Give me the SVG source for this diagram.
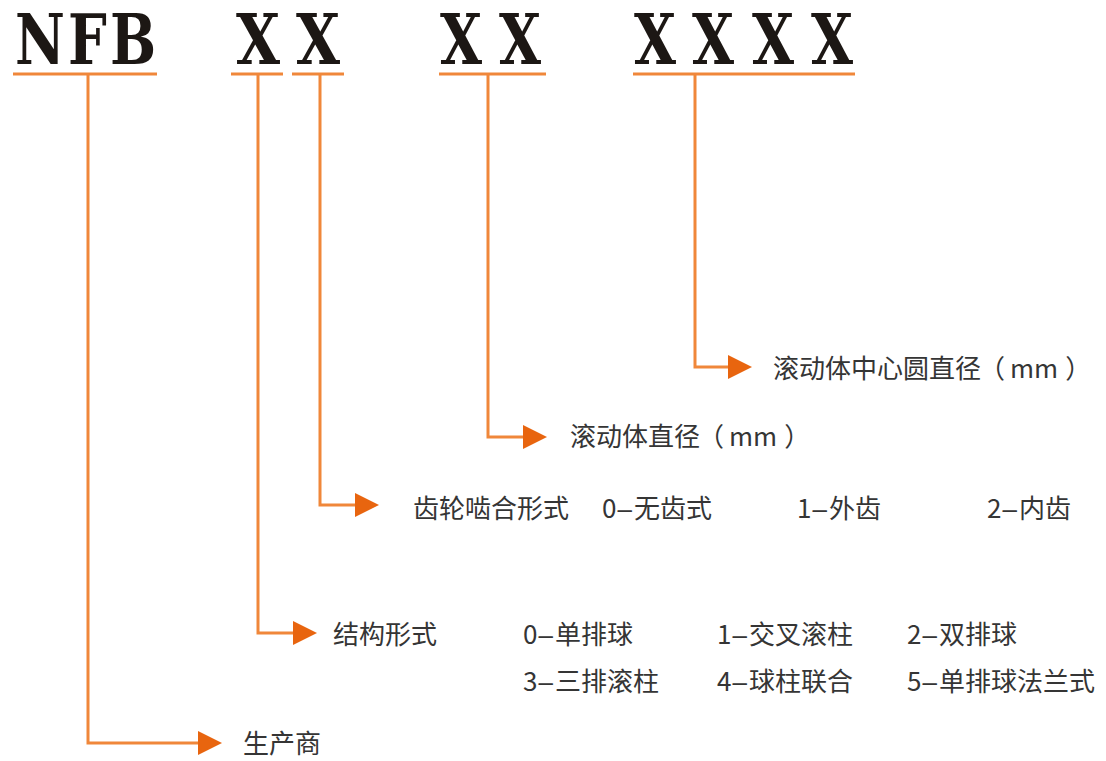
<svg xmlns="http://www.w3.org/2000/svg" width="1106" height="761" viewBox="0 0 1106 761">
<defs>
<style>
.hd{font-family:"DejaVu Serif","Liberation Serif",serif;font-weight:bold;font-size:70px;fill:#1c1714}
.t{font-family:"Noto Sans CJK SC","Noto Sans",sans-serif;font-size:26px;fill:#353535}
.d{font-family:"Liberation Sans","Noto Sans",sans-serif}
.ln{fill:none;stroke:#f0873a;stroke-width:3}
.ah{fill:#e8650f}
</style>
</defs>
<rect width="1106" height="761" fill="#ffffff"/>
<g id="code">
<text class="hd" transform="scale(0.78,1)" x="19.2 87.2 141" y="64">NFB</text>
<text class="hd" x="236" y="64" textLength="44" lengthAdjust="spacingAndGlyphs">X</text>
<text class="hd" x="296" y="64" textLength="44" lengthAdjust="spacingAndGlyphs">X</text>
<text class="hd" x="440" y="64" textLength="42" lengthAdjust="spacingAndGlyphs">X</text>
<text class="hd" x="499" y="64" textLength="42" lengthAdjust="spacingAndGlyphs">X</text>
<text class="hd" x="634" y="64" textLength="42" lengthAdjust="spacingAndGlyphs">X</text>
<text class="hd" x="692" y="64" textLength="42" lengthAdjust="spacingAndGlyphs">X</text>
<text class="hd" x="752" y="64" textLength="42" lengthAdjust="spacingAndGlyphs">X</text>
<text class="hd" x="811" y="64" textLength="42" lengthAdjust="spacingAndGlyphs">X</text>
</g>
<g id="connectors">
<path class="ln" d="M13 74H157M88 74V743H200"/>
<path class="ln" d="M231 74H283M258 74V633H295"/>
<path class="ln" d="M292 74H344M320 74V505H357"/>
<path class="ln" d="M439 74H546M488 74V437H525"/>
<path class="ln" d="M633 74H855M695 74V367H730"/>
<polygon class="ah" points="198,731 222,743 198,755"/>
<polygon class="ah" points="293,621 317,633 293,645"/>
<polygon class="ah" points="355,493 379,505 355,517"/>
<polygon class="ah" points="523,425 547,437 523,449"/>
<polygon class="ah" points="728,355 752,367 728,379"/>
</g>
<g id="node-center-diameter">
<text class="t" x="773" y="378">滚动体中心圆直径<tspan dx="-2">（</tspan><tspan dx="5">mm</tspan><tspan dx="7">）</tspan></text>
</g>
<g id="node-roller-diameter">
<text class="t" x="570" y="446">滚动体直径<tspan dx="-2">（</tspan><tspan dx="5">mm</tspan><tspan dx="7">）</tspan></text>
</g>
<g id="node-gear">
<text class="t" x="413" y="518">齿轮啮合形式</text>
<text class="t" x="602" y="518">0<tspan class="d" dx="1">–</tspan><tspan dx="2">无齿式</tspan></text>
<text class="t" x="797" y="518">1<tspan class="d" dx="1">–</tspan><tspan dx="2">外齿</tspan></text>
<text class="t" x="987" y="518">2<tspan class="d" dx="1">–</tspan><tspan dx="2">内齿</tspan></text>
</g>
<g id="node-structure">
<text class="t" x="333" y="644">结构形式</text>
<text class="t" x="523" y="644">0<tspan class="d" dx="1">–</tspan><tspan dx="2">单排球</tspan></text>
<text class="t" x="717" y="644">1<tspan class="d" dx="1">–</tspan><tspan dx="2">交叉滚柱</tspan></text>
<text class="t" x="907" y="644">2<tspan class="d" dx="1">–</tspan><tspan dx="2">双排球</tspan></text>
<text class="t" x="523" y="691">3<tspan class="d" dx="1">–</tspan><tspan dx="2">三排滚柱</tspan></text>
<text class="t" x="717" y="691">4<tspan class="d" dx="1">–</tspan><tspan dx="2">球柱联合</tspan></text>
<text class="t" x="907" y="691">5<tspan class="d" dx="1">–</tspan><tspan dx="2">单排球法兰式</tspan></text>
</g>
<g id="node-maker">
<text class="t" x="243" y="753">生产商</text>
</g>
</svg>
